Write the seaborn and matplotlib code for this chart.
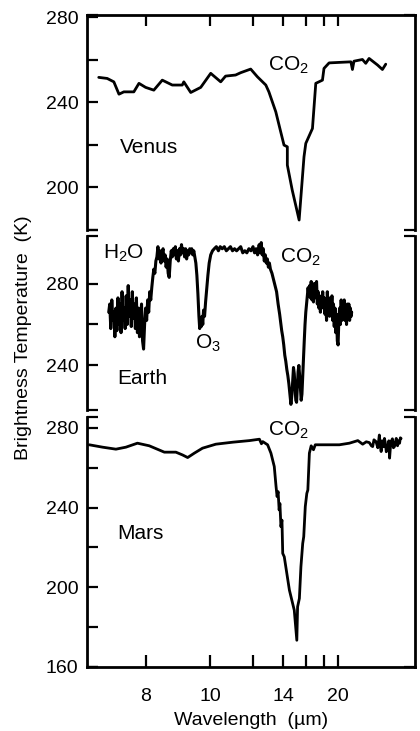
import matplotlib
matplotlib.use("Agg")
import matplotlib.pyplot as plt
import seaborn as sns
from matplotlib.ticker import FixedLocator, NullFormatter

# -----------------------------
# DATA (x in wavenumber cm^-1, y in brightness temperature K)
# -----------------------------
venus_wn = [1434, 1401, 1375, 1355, 1336, 1297, 1277, 1251, 1219, 1186,
            1147, 1108, 1102, 1075, 1036, 997, 958, 939, 900, 880,
            841, 815, 782, 770, 743, 724, 711, 698, 698, 679,
            652, 633, 626, 600, 587, 561, 555, 535, 450, 444,
            438, 405, 392, 379, 346, 327, 314]
venus_tb = [251.7, 251.2, 249.6, 243.8, 244.9, 244.9, 248.9, 247.0, 245.7, 250.4,
            248.1, 248.1, 249.6, 244.6, 247.0, 253.6, 249.6, 252.3, 252.8, 253.9,
            255.6, 252.0, 248.1, 244.9, 235.5, 226.2, 219.9, 219.1, 210.5, 198.8,
            184.7, 214.4, 220.7, 227.7, 248.9, 250.4, 255.9, 258.5, 259.0, 255.4,
            259.3, 260.1, 258.3, 260.6, 257.5, 255.4, 257.9]

earth_wn = [1395, 1391, 1387, 1383, 1379, 1375, 1371, 1367, 1363, 1359,
            1355, 1351, 1347, 1343, 1339, 1335, 1331, 1327, 1323, 1319,
            1315, 1311, 1307, 1303, 1299, 1295, 1291, 1287, 1283, 1279,
            1275, 1271, 1267, 1263, 1259, 1255, 1251, 1247, 1243, 1239,
            1235, 1231, 1227, 1223, 1219, 1215, 1211, 1207, 1203, 1199,
            1195, 1191, 1187, 1183, 1179, 1175, 1171, 1167, 1163, 1159,
            1155, 1151, 1147, 1143, 1139, 1135, 1131, 1127, 1123, 1119,
            1115, 1111, 1107, 1103, 1099, 1095, 1091, 1087, 1083, 1079,
            1075, 1071, 1067, 1063, 1059, 1055, 1051, 1047, 1043, 1040,
            1037, 1034, 1031, 1028, 1025, 1021, 1017, 1013, 1008, 1003,
            997, 990, 983, 975, 967, 960, 952, 944, 936, 928,
            920, 912, 904, 896, 888, 880, 872, 864, 856, 848,
            840, 832, 826, 820, 814, 808, 804, 800, 796, 792,
            788, 784, 780, 776, 772, 768, 764, 758, 752, 746,
            740, 734, 728, 724, 720, 716, 712, 708, 704, 700,
            696, 692, 688, 684, 680, 677, 674, 671, 668, 665,
            662, 659, 656, 653, 650, 647, 644, 641, 638, 635,
            632, 629, 626, 623, 620, 617, 614, 611, 608, 605,
            602, 599, 596, 593, 590, 587, 584, 581, 578, 575,
            572, 569, 566, 563, 560, 557, 554, 551, 548, 545,
            542, 539, 536, 533, 530, 527, 524, 521, 518, 515,
            512, 509, 506, 503, 500, 497, 494, 491, 488, 485,
            482, 479, 476, 473, 470, 467, 464, 461, 458, 455,
            452, 449, 447]
earth_tb = [266, 270, 258, 272, 262, 266, 254, 268, 257, 273,
            260, 270, 256, 276, 262, 268, 258, 274, 260, 279,
            264, 272, 259, 276, 263, 270, 258, 273, 256, 268,
            254, 262, 270, 252, 248, 260, 268, 262, 272, 266,
            276, 272, 278, 283, 287, 285, 291, 293, 298, 292,
            296, 290, 295, 297, 291, 294, 288, 292, 285, 283,
            291, 296, 293, 297, 294, 298, 292, 296, 291, 297,
            294, 299, 295, 297, 293, 297, 292, 296, 294, 297,
            295, 297, 294, 296, 293, 290, 284, 275, 264, 258,
            262, 259, 264, 260, 267, 264, 271, 277, 284, 290,
            294, 296, 297, 298, 296, 298, 297, 298, 296, 297,
            298, 296, 297, 296, 297, 298, 295, 296, 295, 297,
            296, 298, 295, 297, 294, 299, 295, 300, 294, 297,
            291, 294, 290, 292, 288, 290, 287, 285, 282, 279,
            276, 270, 265, 261, 257, 254, 250, 245, 242, 238,
            235, 231, 226, 221, 226, 233, 239, 236, 229, 223,
            222, 230, 237, 240, 235, 229, 223, 226, 235, 244,
            252, 260, 266, 270, 274, 278, 274, 279, 273, 281,
            272, 278, 271, 280, 273, 278, 281, 270, 276, 268,
            274, 266, 272, 270, 276, 268, 273, 265, 271, 262,
            276, 268, 273, 264, 271, 266, 274, 262, 270, 259,
            268, 256, 265, 252, 250, 262, 268, 260, 272, 262,
            270, 264, 272, 262, 268, 260, 270, 263, 270, 262,
            268, 264, 266]

mars_wn = [1471, 1419, 1367, 1328, 1283, 1237, 1178, 1133, 1107, 1087,
           1061, 1029, 977, 911, 846, 807, 799, 794, 775, 762,
           749, 742, 738, 734, 730, 727, 723, 719, 716, 710,
           690, 671, 661, 658, 651, 645, 638, 634, 628, 622,
           618, 612, 605, 596, 589, 560, 495, 456, 423, 404,
           390, 378, 370, 365, 360, 352, 345, 339, 335, 332,
           328, 323, 319, 315, 312, 306, 302, 299, 296, 293,
           288, 284, 280, 276, 273, 268, 264, 260, 257, 254]
mars_tb = [271.5, 270.3, 269.3, 270.3, 272.3, 271.0, 267.8, 267.8, 266.4, 265.1,
           267.3, 269.8, 271.8, 272.8, 273.6, 274.3, 272.0, 273.1, 271.5, 267.3,
           260.6, 250.5, 245.5, 248.0, 238.8, 242.0, 230.4, 233.7, 217.0, 215.3,
           198.6, 188.5, 173.4, 190.2, 194.4, 210.3, 222.0, 225.4, 240.5, 247.1,
           248.8, 267.3, 271.0, 269.0, 271.5, 271.5, 271.5, 272.3, 273.6, 271.8,
           273.0, 272.6, 271.0, 270.6, 274.0, 273.1, 270.0, 276.4, 271.0, 268.1,
           273.5, 270.5, 274.7, 272.0, 268.0, 269.8, 273.5, 264.8, 270.0, 273.1,
           274.5, 270.0, 270.6, 273.0, 274.7, 271.0, 273.5, 272.3, 275.0, 274.7]

tick_wavelengths = [8, 10, 12, 14, 16, 18, 20]
tick_labels = ["8", "10", "", "14", "", "", "20"]

# -----------------------------
# STYLE
# -----------------------------
sns.set_theme(style="ticks")
plt.rcParams["font.family"] = ["Liberation Sans", "DejaVu Sans"]
plt.rcParams["mathtext.default"] = "regular"
plt.rcParams["axes.linewidth"] = 2.0
for key in ["text.color", "axes.labelcolor", "xtick.color", "ytick.color", "axes.edgecolor"]:
    plt.rcParams[key] = "black"

FS = 14
FS_ANN = 15

fig = plt.figure(figsize=(4.2, 7.31), dpi=100)
gs = fig.add_gridspec(3, 1, height_ratios=[215, 174, 250],
                      left=0.207, right=0.988, top=0.9795, bottom=0.0876,
                      hspace=0.03)
ax_v = fig.add_subplot(gs[0])
ax_e = fig.add_subplot(gs[1], sharex=ax_v)
ax_m = fig.add_subplot(gs[2], sharex=ax_v)

panels = [
    (ax_v, venus_wn, venus_tb, 2.0, (180, 281), [180, 200, 220, 240, 260, 280], [200, 240, 280]),
    (ax_e, earth_wn, earth_tb, 2.2, (218, 303), [240, 260, 280], [240, 280]),
    (ax_m, mars_wn, mars_tb, 2.0, (160, 285.5), [160, 180, 200, 220, 240, 260, 280], [160, 200, 240, 280]),
]

for ax, wn, tb, lw, ylim, yticks, ylabeled in panels:
    sns.lineplot(x=wn, y=tb, ax=ax, color="black", linewidth=lw,
                 estimator=None, sort=False)
    ax.set_ylim(*ylim)
    ax.yaxis.set_major_locator(FixedLocator(yticks))
    ax.set_yticklabels([str(t) if t in ylabeled else "" for t in yticks])
    # bracket ticks at the panel ends
    ax.yaxis.set_minor_locator(FixedLocator(list(ylim)))
    ax.yaxis.set_minor_formatter(NullFormatter())
    ax.yaxis.remove_overlapping_locs = False
    ax.tick_params(axis="y", which="major", direction="in", length=8, width=1.6,
                   left=True, right=False, labelsize=FS, pad=6, colors="black")
    ax.tick_params(axis="y", which="minor", direction="in", length=8, width=1.6,
                   left=True, right=True)
    ax.set_xlabel("")
    ax.set_ylabel("")

ax_v.set_xlim(1480, 200)
wn_ticks = [10000 / w for w in tick_wavelengths]
ax_v.set_xticks(wn_ticks)
ax_m.set_xticklabels(tick_labels)

ax_v.spines["bottom"].set_visible(False)
ax_e.spines["top"].set_visible(False)
ax_e.spines["bottom"].set_visible(False)
ax_m.spines["top"].set_visible(False)

ax_v.tick_params(axis="x", direction="in", length=8, width=1.6, top=True, bottom=False,
                 labelbottom=False, labeltop=False)
ax_e.tick_params(axis="x", bottom=False, top=False, labelbottom=False)
ax_m.tick_params(axis="x", direction="in", length=9, width=1.6, top=False, bottom=True,
                 labelbottom=True, labelsize=FS, pad=15, colors="black")

ax_m.set_xlabel("Wavelength  (\u00b5m)", fontsize=FS, labelpad=5)
fig.text(0.057, 1 - 338 / 731, "Brightness Temperature  (K)", rotation=90,
         ha="center", va="center", fontsize=FS)

# -----------------------------
# ANNOTATIONS
# -----------------------------
ax_v.text(695, 257.5, "CO$_2$", fontsize=FS_ANN, ha="center", va="center")
ax_v.text(1238, 219, "Venus", fontsize=FS_ANN, ha="center", va="center")

ax_e.text(1336, 294.6, "H$_2$O", fontsize=FS_ANN, ha="center", va="center")
ax_e.text(648, 292.7, "CO$_2$", fontsize=FS_ANN, ha="center", va="center")
ax_e.text(1008, 250.7, "O$_3$", fontsize=FS_ANN, ha="center", va="center")
ax_e.text(1262, 233.7, "Earth", fontsize=FS_ANN, ha="center", va="center")

ax_m.text(695, 278.5, "CO$_2$", fontsize=FS_ANN, ha="center", va="center")
ax_m.text(1270, 227, "Mars", fontsize=FS_ANN, ha="center", va="center")

plt.savefig("out.png", dpi=100)
plt.close()
